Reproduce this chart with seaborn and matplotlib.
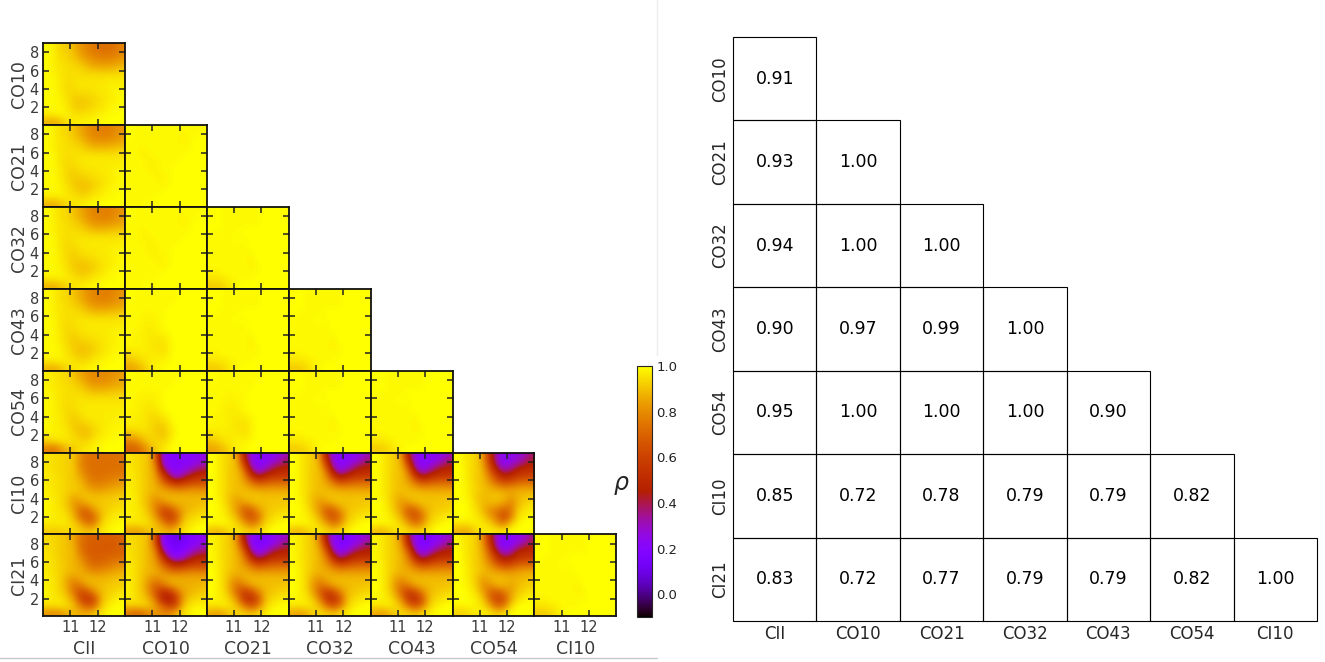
#!/usr/bin/env python3
# -*- coding: utf-8 -*-
import numpy as np
import matplotlib
matplotlib.use('Agg')
import matplotlib.pyplot as plt
from matplotlib.colors import ListedColormap
from matplotlib.lines import Line2D
from matplotlib.patches import Rectangle
import seaborn as sns

sns.set_style('white')
plt.rcParams['font.family'] = ['DejaVu Sans']

### donnees
rows_names = ['CO10', 'CO21', 'CO32', 'CO43', 'CO54', 'CI10', 'CI21']
cols_names = ['CII', 'CO10', 'CO21', 'CO32', 'CO43', 'CO54', 'CI10']

rho_table = [
    [0.91],
    [0.93, 1.00],
    [0.94, 1.00, 1.00],
    [0.90, 0.97, 0.99, 1.00],
    [0.95, 1.00, 1.00, 1.00, 0.90],
    [0.85, 0.72, 0.78, 0.79, 0.79, 0.82],
    [0.83, 0.72, 0.77, 0.79, 0.79, 0.82, 1.00],
]

# surfaces, ligne du haut en premier
CII_TOP = [
    [.99, .98, .93, .92, .88, .82, .78, .75, .73, .73, .74, .78],
    [.99, .98, .94, .93, .90, .84, .80, .77, .75, .75, .76, .79],
    [.99, .98, .95, .94, .92, .88, .84, .81, .80, .80, .81, .84],
    [.99, .98, .96, .95, .94, .93, .90, .87, .86, .86, .87, .89],
    [.99, .98, .96, .95, .95, .95, .94, .94, .94, .94, .94, .95],
    [.99, .99, .97, .95, .95, .96, .96, .96, .96, .97, .97, .97],
    [.99, .99, .97, .94, .95, .96, .96, .96, .97, .97, .98, .98],
    [.99, .99, .98, .95, .93, .94, .94, .95, .96, .97, .98, .99],
    [.99, .99, .98, .96, .92, .91, .92, .94, .95, .97, .98, .99],
    [.99, .99, .99, .97, .93, .92, .93, .95, .96, .98, .99, .99],
    [.97, .97, .98, .98, .96, .95, .96, .97, .98, .99, .99, 1.0],
    [.88, .86, .90, .95, .97, .98, .98, .99, .99, 1.0, 1.0, 1.0],
]
CII_MID = [
    [.99, .98, .95, .94, .90, .86, .81, .78, .77, .77, .79, .82],
    [.99, .98, .95, .94, .91, .87, .82, .79, .78, .78, .80, .83],
    [.99, .98, .96, .95, .93, .91, .86, .83, .82, .83, .84, .86],
    [.99, .98, .96, .95, .95, .94, .92, .90, .90, .90, .91, .92],
    [.99, .99, .96, .95, .95, .96, .96, .96, .96, .96, .96, .96],
    [.99, .99, .96, .94, .95, .96, .97, .97, .97, .97, .97, .98],
    [.99, .99, .97, .94, .93, .95, .96, .96, .97, .97, .98, .98],
    [.99, .99, .97, .94, .92, .93, .94, .95, .96, .97, .98, .99],
    [.99, .99, .98, .95, .92, .90, .91, .93, .95, .97, .98, .99],
    [.99, .99, .98, .96, .93, .91, .91, .94, .96, .98, .99, .99],
    [.97, .97, .98, .97, .96, .94, .95, .97, .98, .99, .99, 1.0],
    [.88, .87, .90, .94, .96, .97, .98, .99, .99, 1.0, 1.0, 1.0],
]
CII_LOW = [
    [.98, .97, .95, .94, .90, .85, .81, .79, .79, .80, .81, .84],
    [.98, .97, .95, .94, .92, .88, .83, .80, .80, .81, .83, .85],
    [.98, .97, .96, .95, .94, .92, .88, .85, .85, .86, .87, .88],
    [.99, .98, .96, .95, .95, .95, .93, .92, .92, .92, .93, .93],
    [.99, .98, .96, .95, .95, .96, .96, .96, .96, .96, .96, .96],
    [.99, .98, .96, .94, .95, .96, .97, .97, .97, .97, .97, .97],
    [.99, .98, .97, .94, .93, .95, .97, .97, .97, .97, .97, .98],
    [.99, .98, .97, .94, .92, .93, .95, .96, .97, .97, .98, .98],
    [.99, .98, .97, .96, .92, .90, .91, .94, .96, .98, .98, .99],
    [.98, .98, .98, .96, .94, .91, .90, .94, .97, .98, .99, .99],
    [.92, .93, .95, .96, .95, .94, .94, .97, .98, .99, .99, 1.0],
    [.78, .75, .82, .88, .92, .95, .97, .98, .99, 1.0, 1.0, 1.0],
]
FLAT_A = [
    [1.0, .99, .99, .99, .99, .99, .99, .99, .99, .99, .99, .99],
    [1.0, .99, .99, .99, .99, .99, .99, .99, .98, .99, .99, 1.0],
    [.99, .99, .99, .99, .99, .99, .99, .99, .98, .99, 1.0, 1.0],
    [.99, .99, .98, .99, .99, .99, .99, .99, .99, .99, 1.0, 1.0],
    [.99, .99, .98, .98, .99, .99, .99, .99, .99, 1.0, 1.0, 1.0],
    [.99, .99, .99, .98, .98, .99, .99, .99, 1.0, 1.0, 1.0, 1.0],
    [.99, .99, .99, .98, .98, .99, .99, 1.0, 1.0, 1.0, 1.0, 1.0],
    [.99, .99, .99, .99, .98, .98, .99, 1.0, 1.0, 1.0, 1.0, 1.0],
    [.99, .99, .99, .99, .99, .98, .99, 1.0, 1.0, 1.0, 1.0, 1.0],
    [.99, .99, .99, .99, .99, .99, 1.0, 1.0, 1.0, 1.0, 1.0, 1.0],
    [.99, .99, .99, .99, .99, 1.0, 1.0, 1.0, 1.0, 1.0, 1.0, 1.0],
    [.99, .99, .99, 1.0, 1.0, 1.0, 1.0, 1.0, 1.0, 1.0, 1.0, 1.0],
]
FLAT_B = [
    [1.0, 1.0, .99, .99, .99, .99, .99, .99, 1.0, 1.0, 1.0, 1.0],
    [1.0, 1.0, .99, .99, .99, .99, .99, .99, 1.0, 1.0, 1.0, 1.0],
    [1.0, 1.0, .99, .99, .99, .99, .99, .99, 1.0, 1.0, 1.0, 1.0],
    [1.0, .99, .99, .99, .99, 1.0, 1.0, 1.0, 1.0, 1.0, 1.0, 1.0],
    [.99, .99, .99, .99, 1.0, .99, 1.0, 1.0, 1.0, 1.0, 1.0, 1.0],
    [.99, .99, .99, .99, .99, .99, 1.0, 1.0, 1.0, 1.0, 1.0, 1.0],
    [.99, .99, .99, .99, .99, .99, .99, 1.0, 1.0, 1.0, 1.0, 1.0],
    [.99, .99, .99, .99, .99, .99, .98, 1.0, 1.0, 1.0, 1.0, 1.0],
    [.99, .99, .99, .99, .99, .99, .98, .99, 1.0, 1.0, 1.0, 1.0],
    [.98, .98, .99, .99, .99, .99, .99, .99, 1.0, 1.0, 1.0, 1.0],
    [.96, .96, .97, .98, .99, .99, .99, 1.0, 1.0, 1.0, 1.0, 1.0],
    [.92, .92, .94, .97, .99, 1.0, 1.0, 1.0, 1.0, 1.0, 1.0, 1.0],
]
FLAT_C = [
    [1.0, .99, .99, .99, .99, .99, .99, .99, 1.0, 1.0, 1.0, 1.0],
    [1.0, .99, .99, .99, .99, .99, .99, .99, 1.0, 1.0, 1.0, 1.0],
    [.99, .99, .99, .99, .99, .99, .99, 1.0, 1.0, 1.0, 1.0, 1.0],
    [.99, .99, .99, .98, .99, .99, 1.0, 1.0, 1.0, 1.0, 1.0, 1.0],
    [.99, .99, .98, .98, .98, .99, 1.0, 1.0, 1.0, 1.0, 1.0, 1.0],
    [.99, .99, .98, .97, .98, .99, 1.0, 1.0, 1.0, 1.0, 1.0, 1.0],
    [.99, .98, .98, .97, .97, .98, .99, 1.0, 1.0, 1.0, 1.0, 1.0],
    [.99, .98, .98, .97, .96, .96, .98, 1.0, 1.0, 1.0, 1.0, 1.0],
    [.98, .98, .98, .97, .96, .95, .98, 1.0, 1.0, 1.0, 1.0, 1.0],
    [.95, .96, .97, .97, .97, .96, .98, 1.0, 1.0, 1.0, 1.0, 1.0],
    [.90, .92, .95, .97, .98, .98, .99, 1.0, 1.0, 1.0, 1.0, 1.0],
    [.85, .86, .90, .95, .98, .99, 1.0, 1.0, 1.0, 1.0, 1.0, 1.0],
]
FLAT_D = [
    [1.0, .99, .99, .99, .99, .99, .99, .99, .99, 1.0, 1.0, 1.0],
    [.99, .99, .99, .99, .99, .99, .99, .99, 1.0, 1.0, 1.0, 1.0],
    [.99, .99, .99, .99, .99, .99, .99, 1.0, 1.0, 1.0, 1.0, 1.0],
    [.99, .99, .98, .98, .98, .99, 1.0, 1.0, 1.0, 1.0, 1.0, 1.0],
    [.99, .98, .98, .97, .98, .99, 1.0, 1.0, 1.0, 1.0, 1.0, 1.0],
    [.99, .98, .97, .96, .97, .99, 1.0, 1.0, 1.0, 1.0, 1.0, 1.0],
    [.98, .98, .97, .95, .95, .97, .99, 1.0, 1.0, 1.0, 1.0, 1.0],
    [.98, .97, .97, .95, .93, .94, .97, 1.0, 1.0, 1.0, 1.0, 1.0],
    [.96, .96, .96, .95, .92, .91, .96, .99, 1.0, 1.0, 1.0, 1.0],
    [.88, .90, .93, .94, .93, .90, .95, .99, 1.0, 1.0, 1.0, 1.0],
    [.78, .79, .86, .92, .94, .94, .97, 1.0, 1.0, 1.0, 1.0, 1.0],
    [.70, .70, .76, .85, .92, .96, .99, 1.0, 1.0, 1.0, 1.0, 1.0],
]
CI10_CII = [
    [.96, .95, .94, .93, .91, .81, .75, .74, .74, .74, .74, .75],
    [.96, .95, .94, .93, .91, .79, .74, .73, .73, .73, .73, .74],
    [.97, .95, .94, .93, .91, .81, .75, .73, .73, .73, .74, .74],
    [.97, .96, .94, .93, .91, .85, .77, .74, .74, .75, .76, .77],
    [.97, .96, .95, .93, .91, .89, .81, .77, .77, .79, .81, .83],
    [.98, .96, .95, .93, .92, .90, .87, .83, .83, .85, .87, .88],
    [.98, .97, .95, .92, .86, .89, .91, .90, .90, .91, .91, .92],
    [.99, .97, .95, .91, .83, .82, .87, .90, .91, .92, .93, .94],
    [.99, .97, .96, .93, .85, .72, .72, .84, .90, .93, .95, .96],
    [.99, .97, .97, .95, .89, .74, .66, .72, .89, .95, .97, .98],
    [.97, .96, .97, .96, .93, .86, .76, .78, .93, .97, .98, .99],
    [.92, .92, .92, .94, .94, .92, .90, .92, .96, .98, 1.0, 1.0],
]
CI21_CII = [
    [.94, .94, .92, .90, .85, .75, .71, .69, .69, .69, .69, .71],
    [.95, .94, .92, .90, .87, .74, .69, .68, .68, .68, .68, .69],
    [.96, .94, .92, .90, .88, .76, .69, .68, .68, .68, .69, .70],
    [.96, .95, .92, .90, .88, .81, .72, .69, .69, .71, .72, .73],
    [.97, .95, .93, .90, .88, .85, .77, .72, .73, .75, .78, .81],
    [.97, .95, .93, .90, .88, .87, .83, .80, .81, .83, .85, .87],
    [.98, .96, .93, .86, .82, .86, .89, .88, .88, .89, .90, .91],
    [.98, .96, .93, .86, .74, .77, .85, .88, .89, .91, .92, .93],
    [.99, .96, .94, .88, .76, .63, .67, .80, .89, .92, .94, .96],
    [.98, .97, .96, .92, .84, .63, .56, .63, .87, .94, .97, .98],
    [.95, .95, .96, .95, .89, .78, .67, .72, .91, .97, .99, 1.0],
    [.82, .80, .82, .87, .89, .87, .87, .91, .96, .99, 1.0, 1.0],
]
CI10_CO10 = [
    [.96, .95, .93, .91, .70, .26, .19, .20, .21, .21, .22, .25],
    [.96, .95, .93, .90, .76, .27, .20, .20, .21, .22, .25, .30],
    [.97, .95, .93, .90, .81, .42, .24, .22, .24, .29, .36, .40],
    [.97, .96, .93, .90, .84, .62, .38, .25, .34, .44, .50, .52],
    [.97, .96, .93, .90, .86, .74, .62, .54, .57, .62, .64, .64],
    [.98, .96, .93, .90, .88, .85, .81, .79, .79, .81, .81, .81],
    [.98, .97, .93, .88, .84, .88, .89, .89, .88, .88, .88, .88],
    [.98, .97, .93, .88, .78, .78, .84, .87, .88, .88, .89, .90],
    [.98, .97, .95, .89, .78, .63, .64, .76, .86, .89, .91, .93],
    [.98, .97, .96, .92, .84, .66, .58, .67, .87, .93, .95, .96],
    [.96, .95, .96, .95, .89, .82, .70, .76, .93, .96, .98, .99],
    [.85, .84, .86, .90, .91, .89, .87, .91, .95, .98, 1.0, 1.0],
]
CI21_CO10 = [
    [.94, .94, .92, .89, .62, .22, .14, .10, .12, .18, .20, .24],
    [.95, .94, .92, .88, .68, .24, .16, .13, .16, .20, .23, .28],
    [.96, .94, .92, .88, .78, .38, .20, .16, .20, .27, .34, .38],
    [.96, .94, .92, .88, .82, .58, .34, .24, .30, .40, .47, .48],
    [.97, .95, .92, .88, .84, .72, .58, .50, .52, .58, .60, .60],
    [.97, .95, .91, .88, .87, .82, .76, .74, .76, .78, .78, .78],
    [.98, .95, .91, .84, .80, .84, .87, .87, .86, .86, .86, .86],
    [.98, .95, .90, .80, .70, .74, .82, .86, .87, .87, .88, .89],
    [.98, .95, .91, .82, .66, .52, .55, .71, .84, .88, .90, .92],
    [.97, .96, .93, .88, .74, .48, .42, .58, .84, .92, .94, .95],
    [.92, .92, .93, .91, .84, .71, .59, .65, .90, .96, .98, .98],
    [.76, .72, .74, .80, .82, .80, .80, .88, .95, .98, 1.0, 1.0],
]
CI10_CO21 = [
    [1.0, .98, .95, .92, .82, .44, .25, .20, .21, .23, .26, .32],
    [1.0, .98, .95, .92, .87, .55, .26, .21, .23, .27, .33, .40],
    [1.0, .98, .95, .91, .89, .71, .36, .24, .30, .40, .46, .48],
    [1.0, .98, .95, .91, .90, .80, .56, .40, .48, .54, .56, .56],
    [1.0, .98, .95, .91, .89, .85, .76, .68, .69, .72, .72, .72],
    [1.0, .98, .95, .91, .90, .89, .87, .85, .85, .85, .85, .85],
    [1.0, .98, .95, .89, .87, .90, .91, .91, .90, .90, .90, .90],
    [1.0, .99, .96, .89, .82, .83, .87, .90, .90, .91, .91, .92],
    [1.0, .99, .97, .91, .82, .68, .70, .82, .89, .92, .93, .94],
    [1.0, .99, .98, .94, .87, .72, .64, .74, .90, .94, .96, .97],
    [.99, .98, .99, .97, .93, .85, .76, .82, .94, .97, .99, 1.0],
    [.90, .88, .91, .95, .96, .94, .92, .94, .97, 1.0, 1.0, 1.0],
]
CI21_CO21 = [
    [.98, .97, .94, .91, .78, .40, .23, .17, .18, .21, .25, .30],
    [.99, .97, .94, .91, .83, .50, .24, .18, .20, .25, .31, .38],
    [.99, .97, .94, .91, .86, .67, .33, .22, .28, .38, .44, .46],
    [.99, .97, .94, .91, .88, .77, .52, .36, .44, .52, .54, .54],
    [.99, .98, .94, .91, .87, .82, .72, .64, .66, .69, .70, .70],
    [1.0, .98, .94, .90, .88, .87, .84, .82, .83, .83, .83, .83],
    [1.0, .98, .94, .86, .82, .87, .89, .89, .89, .89, .89, .89],
    [1.0, .98, .94, .83, .74, .78, .85, .88, .89, .90, .90, .91],
    [1.0, .98, .95, .86, .70, .58, .64, .78, .88, .91, .93, .94],
    [.99, .98, .97, .91, .80, .56, .52, .66, .89, .94, .96, .97],
    [.96, .96, .97, .95, .89, .76, .66, .76, .92, .97, .99, 1.0],
    [.86, .84, .87, .92, .94, .92, .90, .94, .97, 1.0, 1.0, 1.0],
]
CI10_CO54 = [
    [1.0, .98, .95, .93, .80, .50, .28, .22, .24, .27, .31, .38],
    [1.0, .98, .95, .93, .83, .55, .30, .23, .26, .31, .37, .44],
    [1.0, .99, .95, .93, .86, .65, .42, .30, .36, .45, .50, .52],
    [1.0, .99, .95, .92, .88, .74, .58, .46, .50, .57, .60, .60],
    [1.0, .99, .96, .92, .89, .82, .72, .66, .68, .72, .74, .74],
    [1.0, .99, .96, .93, .90, .88, .86, .84, .84, .86, .86, .86],
    [1.0, .99, .97, .91, .89, .90, .91, .89, .84, .88, .90, .91],
    [1.0, 1.0, .98, .93, .88, .88, .88, .84, .78, .88, .93, .95],
    [1.0, 1.0, .98, .95, .88, .80, .76, .70, .76, .92, .96, .97],
    [1.0, 1.0, .99, .97, .92, .84, .74, .62, .78, .95, .98, .99],
    [.96, .95, .96, .98, .96, .93, .84, .78, .93, .98, 1.0, 1.0],
    [.88, .86, .88, .94, .97, .97, .96, .97, .99, 1.0, 1.0, 1.0],
]
CI21_CO54 = [
    [.99, .97, .95, .92, .78, .48, .26, .19, .21, .24, .28, .36],
    [1.0, .97, .95, .92, .81, .53, .27, .20, .23, .29, .36, .43],
    [1.0, .98, .95, .92, .84, .64, .38, .26, .32, .44, .50, .50],
    [1.0, .98, .95, .92, .86, .72, .54, .42, .46, .55, .57, .57],
    [1.0, .99, .95, .92, .88, .80, .69, .62, .64, .70, .72, .72],
    [1.0, .99, .96, .92, .89, .87, .84, .82, .82, .84, .86, .86],
    [1.0, .99, .96, .90, .84, .88, .90, .89, .87, .88, .89, .90],
    [1.0, .99, .97, .92, .80, .82, .87, .88, .85, .89, .92, .93],
    [1.0, 1.0, .98, .94, .84, .70, .68, .76, .84, .91, .94, .96],
    [1.0, 1.0, .99, .97, .90, .72, .60, .66, .86, .95, .98, .99],
    [.98, .98, .99, .98, .95, .85, .70, .76, .94, .99, 1.0, 1.0],
    [.93, .93, .95, .97, .97, .96, .92, .96, .99, 1.0, 1.0, 1.0],
]

panels = [
    [CII_TOP],
    [CII_MID, FLAT_A],
    [CII_MID, FLAT_A, FLAT_B],
    [CII_MID, FLAT_C, FLAT_B, FLAT_B],
    [CII_LOW, FLAT_D, FLAT_C, FLAT_B, FLAT_B],
    [CI10_CII, CI10_CO10, CI10_CO21, CI10_CO21, CI10_CO21, CI10_CO54],
    [CI21_CII, CI21_CO10, CI21_CO21, CI21_CO21, CI21_CO21, CI21_CO54, FLAT_B],
]

W, H = 1325, 662
GREY = '#3a3a3a'


def fig_axes(fig, x0, y0, x1, y1):
    """axes placed from pixel coordinates, y measured from the top"""
    return fig.add_axes([x0 / W, 1 - y1 / H, (x1 - x0) / W, (y1 - y0) / H])


def triangle_images(fig):
    left, top, size = 43.0, 43.0, 81.9
    im = None
    for i, ligne in enumerate(panels):
        for j, surface in enumerate(ligne):
            ax = fig_axes(fig, left + j * size, top + i * size,
                          left + (j + 1) * size, top + (i + 1) * size)
            im = ax.imshow(np.array(surface), cmap='gnuplot', vmin=-0.1, vmax=1.0,
                           extent=[10, 13, 0.1, 9], aspect='auto',
                           interpolation='bicubic')
            ax.set_xticks([11, 12])
            ax.set_yticks([2, 4, 6, 8])
            ax.tick_params(direction='in', length=4.5, width=1.1, color='#222222',
                           top=True, right=True, bottom=True, left=True,
                           labelsize=10.5, labelcolor=GREY, pad=3,
                           labelbottom=i == len(panels) - 1, labelleft=j == 0)
            for spine in ax.spines.values():
                spine.set_linewidth(1.3)
                spine.set_color('#111111')
            if j == 0:
                ax.set_ylabel(rows_names[i], fontsize=12.5, color=GREY, labelpad=1)
            if i == len(panels) - 1:
                ax.set_xlabel(cols_names[j], fontsize=12.5, color=GREY, labelpad=3)
    return im


def colorbar_rho(fig, im):
    cax = fig_axes(fig, 637, 366, 652, 617)
    cb = fig.colorbar(im, cax=cax)
    cb.set_ticks([0.0, 0.2, 0.4, 0.6, 0.8, 1.0])
    cb.ax.tick_params(direction='in', length=3, width=0.8, labelsize=9.5,
                      labelcolor='#222222', pad=3, right=True)
    cb.outline.set_linewidth(0.8)
    fig.text(621 / W, 1 - 485 / H, r'$\rho$', fontsize=17, ha='center', va='center')


def table_rho(fig):
    n = len(rows_names)
    valeurs = np.full((n, n), np.nan)
    for i, ligne in enumerate(rho_table):
        valeurs[i, :len(ligne)] = ligne
    ax = fig_axes(fig, 733, 37, 1317, 621)
    sns.heatmap(valeurs, mask=np.isnan(valeurs), ax=ax, cbar=False,
                cmap=ListedColormap(['white']), linewidths=0,
                annot=True, fmt='.2f', annot_kws={'color': 'black', 'fontsize': 12.5},
                xticklabels=cols_names, yticklabels=rows_names, square=False)
    # bords des seules cases remplies
    for i, ligne in enumerate(rho_table):
        for j in range(len(ligne)):
            ax.add_patch(Rectangle((j, i), 1, 1, fill=False, ec='black', lw=0.8,
                                   clip_on=False))
    ax.tick_params(length=0, labelsize=12, pad=3)
    plt.setp(ax.get_xticklabels(), rotation=0)
    plt.setp(ax.get_yticklabels(), rotation=90, va='center')


if __name__ == "__main__":
    fig = plt.figure(figsize=(W / 100, H / 100), dpi=100)
    im = triangle_images(fig)
    colorbar_rho(fig, im)
    table_rho(fig)
    # filets gris de la capture d'origine
    fig.add_artist(Line2D([0, 657 / W], [1 - 658 / H] * 2, color='#c8c8c8', lw=1))
    fig.add_artist(Line2D([657 / W] * 2, [1, 1 - 355 / H], color='#eeeeee', lw=1))
    fig.savefig('out.png', dpi=100)
    plt.close(fig)
